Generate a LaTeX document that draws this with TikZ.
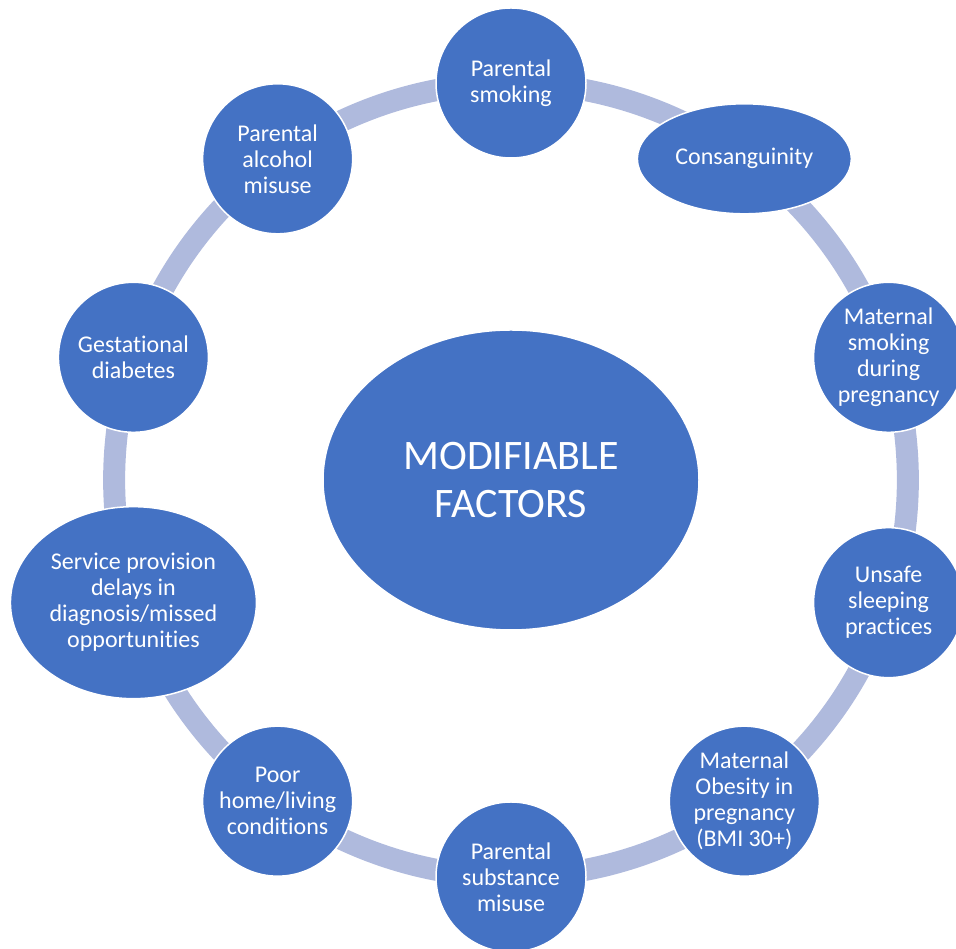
\documentclass[tikz,border=0pt]{standalone}
\usepackage{fontspec}
\setmainfont{Carlito}[Ligatures=NoCommon]
\usetikzlibrary{shapes.geometric,calc,backgrounds}
\definecolor{factorblue}{RGB}{68,114,196}
\definecolor{ringblue}{RGB}{175,186,221}

\begin{document}
\begin{tikzpicture}[x=1pt, y=1pt,
   factor/.style={circle, minimum size=150, inner sep=0pt, fill=factorblue, draw=white,
      line width=1.5pt, text=white, align=center, font=\fontsize{24}{26}\selectfont},
   wide factor/.style={factor, ellipse},
   hubnode/.style={ellipse, minimum width=376, minimum height=300, inner sep=0pt, fill=factorblue,
      draw=white, line width=1.5pt, text=white, align=center, font=\fontsize{42}{48}\selectfont},
   ring/.style={draw=ringblue, line width=22pt}]
\useasboundingbox (0,0) rectangle (956,949);
\coordinate (hub) at (511,469);

\node[hubnode] (modifiable) at (hub) {MODIFIABLE\\FACTORS};

\node[factor] (smoking) at ($(hub)+(90:397)$) {Parental\\smoking};
\node[wide factor, minimum width=214, minimum height=110] (consang) at ($(hub)+(54:397)$) {Consanguinity};
\node[factor] (matsmoke) at ($(hub)+(18:397)$) {Maternal\\smoking\\during\\pregnancy};
\node[factor] (sleeping) at ($(hub)+(-18:397)$) {Unsafe\\sleeping\\practices};
\node[factor] (obesity) at ($(hub)+(-54:397)$) {Maternal\\Obesity in\\pregnancy\\(BMI 30+)};
\node[factor] (substance) at ($(hub)+(-90:397)$) {Parental\\substance\\misuse};
\node[factor] (housing) at ($(hub)+(-126:397)$) {Poor\\home/living\\conditions};
\node[wide factor, minimum width=246, minimum height=192] (service) at ($(hub)+(-162:397)$) {Service provision\\delays in\\diagnosis/missed\\opportunities};
\node[factor] (diabetes) at ($(hub)+(162:397)$) {Gestational\\diabetes};
\node[factor] (alcohol) at ($(hub)+(126:397)$) {Parental\\alcohol\\misuse};

% ring behind the factors
\begin{scope}[on background layer]
\foreach \a/\b in {smoking/consang, consang/matsmoke, matsmoke/sleeping, sleeping/obesity,
   obesity/substance, substance/housing, housing/service, service/diabetes,
   diabetes/alcohol, alcohol/smoking}
   \draw[ring] (\a.center) to[bend left=18, looseness=0.87] (\b.center);
\end{scope}
\end{tikzpicture}
\end{document}
